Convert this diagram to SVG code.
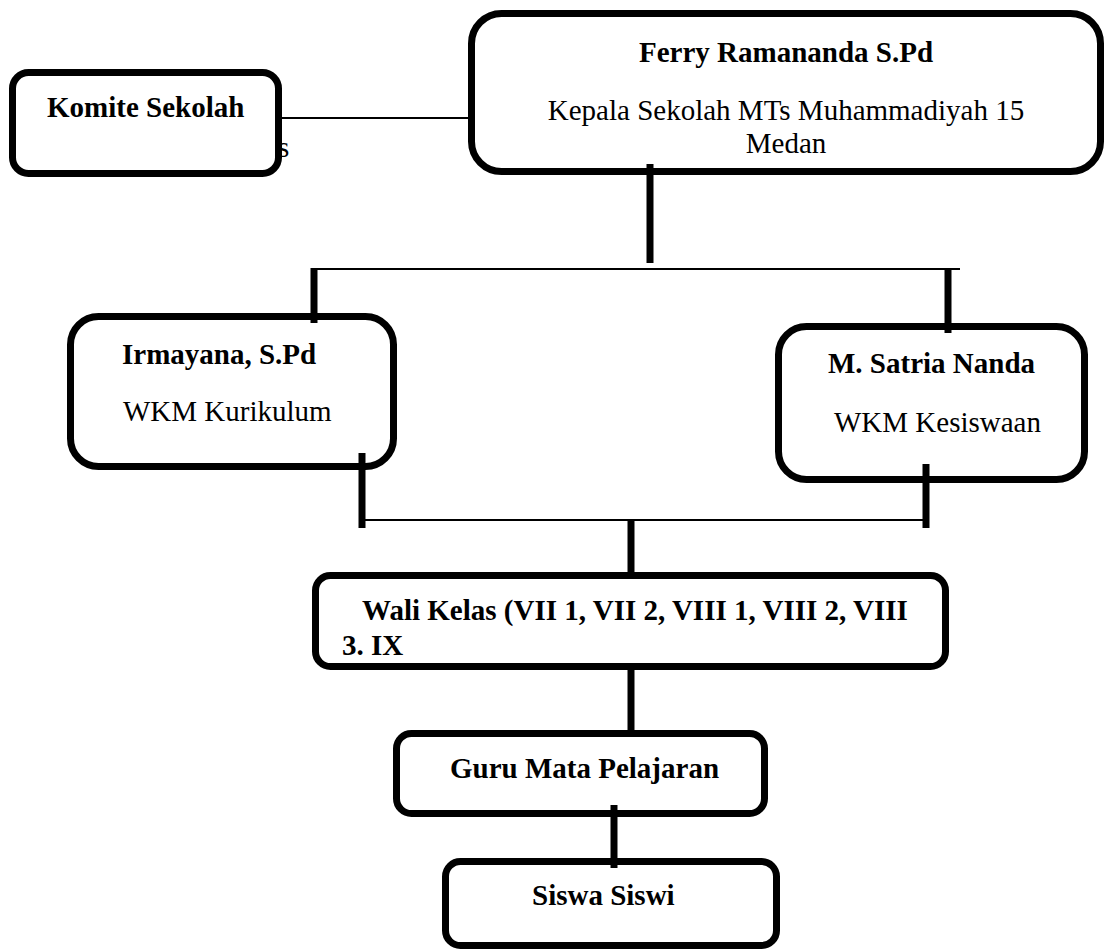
<svg xmlns="http://www.w3.org/2000/svg" width="1106" height="950" viewBox="0 0 1106 950">
<style>
.box{fill:#fff;stroke:#000;stroke-width:7}
.t{font-family:"Liberation Serif","Times New Roman",serif;font-size:29px;fill:#000}
.b{font-weight:bold}
.thick{stroke:#000;stroke-width:7;fill:none}
.thin{stroke:#000;stroke-width:2;fill:none}
</style>
<rect width="1106" height="950" fill="#fff"/>
<text class="t" x="278" y="157">s</text>
<g id="komite">
<rect class="box" x="12.5" y="72.5" width="266" height="101" rx="16"/>
<text class="t b" x="47" y="117">Komite Sekolah</text>
</g>
<g id="ferry">
<rect class="box" x="471.5" y="13.5" width="629" height="158" rx="30"/>
<text class="t b" x="786" y="62" text-anchor="middle">Ferry Ramananda S.Pd</text>
<text class="t" x="786" y="120" text-anchor="middle">Kepala Sekolah MTs Muhammadiyah 15</text>
<text class="t" x="786" y="153" text-anchor="middle">Medan</text>
</g>
<g id="irmayana">
<rect class="box" x="70.5" y="316.5" width="323" height="150" rx="28"/>
<text class="t b" x="122" y="364">Irmayana, S.Pd</text>
<text class="t" x="123" y="421">WKM Kurikulum</text>
</g>
<g id="satria">
<rect class="box" x="778.5" y="326.5" width="306" height="153" rx="28"/>
<text class="t b" x="828" y="373">M. Satria Nanda</text>
<text class="t" x="834" y="432">WKM Kesiswaan</text>
</g>
<g id="wali">
<rect class="box" x="315.5" y="575.5" width="630" height="91" rx="15"/>
<text class="t b" x="362" y="620">Wali Kelas (VII 1, VII 2, VIII 1, VIII 2, VIII</text>
<text class="t b" x="342" y="655">3. IX</text>
</g>
<g id="guru">
<rect class="box" x="396.5" y="733.5" width="368" height="80" rx="15"/>
<text class="t b" x="450" y="778">Guru Mata Pelajaran</text>
</g>
<g id="siswa">
<rect class="box" x="445.5" y="861.5" width="331" height="84" rx="15"/>
<text class="t b" x="532" y="905">Siswa Siswi</text>
</g>
<g id="connectors">
<line class="thin" x1="282" y1="118" x2="470" y2="118"/>
<line class="thick" x1="650" y1="164" x2="650" y2="263"/>
<line class="thin" x1="314" y1="269" x2="960" y2="269"/>
<line class="thick" x1="314" y1="268" x2="314" y2="323"/>
<line class="thick" x1="948" y1="268" x2="948" y2="333"/>
<line class="thick" x1="362" y1="453" x2="362" y2="528"/>
<line class="thick" x1="926" y1="464" x2="926" y2="528"/>
<line class="thin" x1="362" y1="520" x2="926" y2="520"/>
<line class="thick" x1="631" y1="520" x2="631" y2="578"/>
<line class="thick" x1="631" y1="666" x2="631" y2="731"/>
<line class="thick" x1="614" y1="805" x2="614" y2="868"/>
</g>
</svg>
